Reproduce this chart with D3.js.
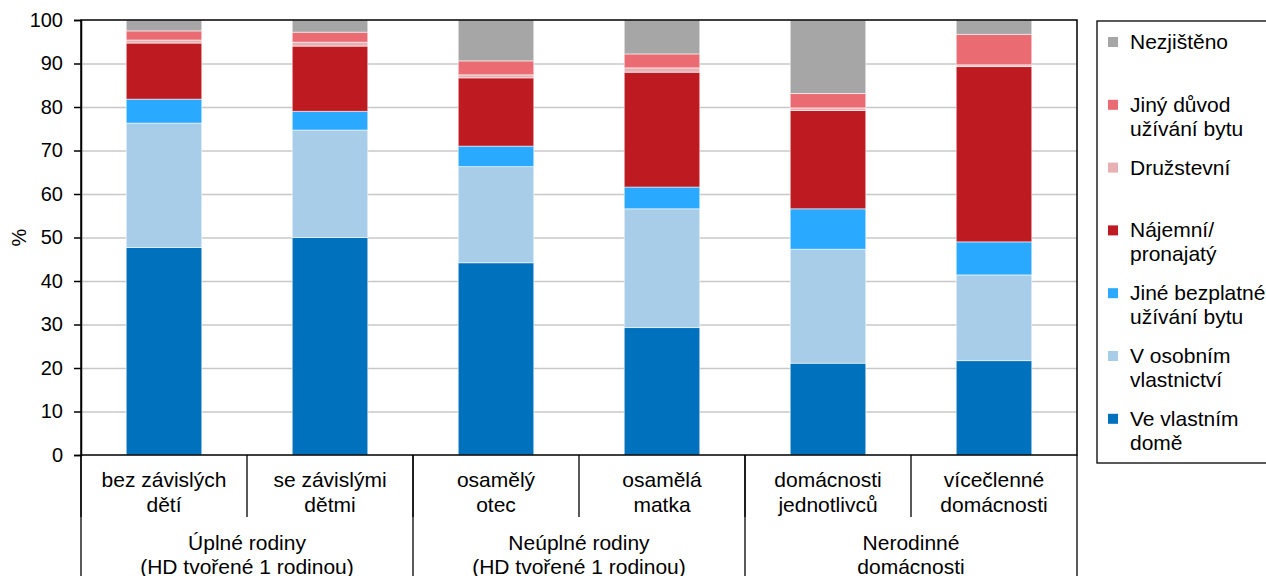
<!DOCTYPE html>
<html><head><meta charset="utf-8">
<script src="https://cdn.jsdelivr.net/npm/d3@7"></script>
<style>
body{margin:0;background:#fff;}
svg{display:block;font-family:"Liberation Sans",Arial,sans-serif;}
</style></head>
<body>
<svg id="chart" width="1266" height="576"></svg>
<script>
// ---- data ----
const categories = ["bez závislých dětí","se závislými dětmi","osamělý otec","osamělá matka","domácnosti jednotlivců","vícečlenné domácnosti"];
const categoryLines = [["bez závislých","dětí"],["se závislými","dětmi"],["osamělý","otec"],["osamělá","matka"],["domácnosti","jednotlivců"],["vícečlenné","domácnosti"]];
const groups = [["Úplné rodiny","(HD tvořené 1 rodinou)"],["Neúplné rodiny","(HD tvořené 1 rodinou)"],["Nerodinné","domácnosti"]];
const groupSize = [2,2,2];
const seriesNames = ["Ve vlastním domě","V osobním vlastnictví","Jiné bezplatné užívání bytu","Nájemní/ pronajatý","Družstevní","Jiný důvod užívání bytu","Nezjištěno"];
const legendLines = [["Ve vlastním","domě"],["V osobním","vlastnictví"],["Jiné bezplatné","užívání bytu"],["Nájemní/","pronajatý"],["Družstevní"],["Jiný důvod","užívání bytu"],["Nezjištěno"]];
const colors = ["#0071bd","#a7cde8","#29a9ff","#be1a22","#e9b0b4","#eb6b73","#a6a6a6"];
const veVlastnimDome   = [47.7, 50.0, 44.2, 29.3, 21.1, 21.7];
const vOsobnim         = [28.6, 24.7, 22.1, 27.3, 26.2, 19.7];
const jineBezplatne    = [5.5, 4.3, 4.7, 5.0, 9.3, 7.6];
const najemni          = [12.9, 15.0, 15.7, 26.4, 22.6, 40.3];
const druzstevni       = [0.7, 0.9, 0.7, 1.0, 0.6, 0.4];
const jinyDuvod        = [2.1, 2.3, 3.2, 3.2, 3.3, 7.0];
const nezjisteno       = [2.5, 2.8, 9.4, 7.8, 16.9, 3.3];
const yTicks = [0,10,20,30,40,50,60,70,80,90,100];

const seriesValues = [veVlastnimDome, vOsobnim, jineBezplatne, najemni, druzstevni, jinyDuvod, nezjisteno];
const rows = categories.map((c,i)=>{ const r={cat:c}; seriesNames.forEach((s,j)=>r[s]=seriesValues[j][i]); return r; });

// ---- layout ----
const L=81, R=1077, T=20, B=455;
const svg = d3.select("#chart");
const x = d3.scaleBand().domain(categories).range([L,R]).paddingInner(0.545).paddingOuter(0.2725);
const y = d3.scaleLinear().domain([0,100]).range([B,T]);
const FS = 20, FS2 = 21;

// gridlines
svg.append("g").selectAll("line").data(yTicks.filter(t=>t>0&&t<100)).join("line")
  .attr("x1",L).attr("x2",R).attr("y1",d=>y(d)+0.5).attr("y2",d=>y(d)+0.5)
  .attr("stroke","#c8c8c8").attr("stroke-width",1.5);

// stacked bars
const stack = d3.stack().keys(seriesNames)(rows);
svg.append("g").selectAll("g").data(stack).join("g")
  .attr("fill",(d,i)=>colors[i])
  .selectAll("rect").data(d=>d).join("rect")
  .attr("x",d=>x(d.data.cat)).attr("width",x.bandwidth())
  .attr("y",d=>y(d[1])).attr("height",d=>y(d[0])-y(d[1]))
  .attr("stroke","rgba(255,255,255,0.55)").attr("stroke-width",1);

// plot frame
svg.append("rect").attr("x",L).attr("y",T).attr("width",R-L).attr("height",B-T)
  .attr("fill","none").attr("stroke","#000").attr("stroke-width",1.5);

// y axis
const yAxis = d3.axisLeft(y).tickValues(yTicks).tickSize(7).tickPadding(11);
const gy = svg.append("g").attr("transform",`translate(${L},0)`).call(yAxis);
gy.select(".domain").attr("stroke","#000").attr("stroke-width",1.5);
gy.selectAll(".tick line").attr("stroke","#000").attr("stroke-width",1.5);
gy.selectAll(".tick text").attr("font-size",FS).attr("fill","#000").attr("font-family","Liberation Sans, Arial, sans-serif");

svg.append("text").attr("transform",`translate(26,${(T+B)/2}) rotate(-90)`)
  .attr("text-anchor","middle").attr("font-size",FS).text("%");

// category axis (multi-level)
const step = x.step();
const ax = svg.append("g");
categories.forEach((c,i)=>{
  const xl = x(c) - (step - x.bandwidth())/2;
  ax.append("line").attr("x1",xl).attr("x2",xl).attr("y1",B).attr("y2",517).attr("stroke","#000").attr("stroke-width",1.3);
});
let acc = 0;
const groupBounds = [L];
groupSize.forEach(n=>{ acc+=n; groupBounds.push(L + acc*step); });
groupBounds.forEach(gx=>{
  ax.append("line").attr("x1",gx).attr("x2",gx).attr("y1",B).attr("y2",576).attr("stroke","#000").attr("stroke-width",1.3);
});
categories.forEach((c,i)=>{
  const cx = x(c)+x.bandwidth()/2;
  const t = ax.append("text").attr("text-anchor","middle").attr("font-size",FS2);
  categoryLines[i].forEach((ln,k)=> t.append("tspan").attr("x",cx).attr("y",487+k*24.5).text(ln));
});
groups.forEach((g,i)=>{
  const cx = (groupBounds[i]+groupBounds[i+1])/2;
  const t = ax.append("text").attr("text-anchor","middle").attr("font-size",FS2);
  g.forEach((ln,k)=> t.append("tspan").attr("x",cx).attr("y",550+k*24).text(ln));
});

// legend
const lg = svg.append("g");
lg.append("rect").attr("x",1097).attr("y",21).attr("width",180).attr("height",442)
  .attr("fill","#fff").attr("stroke","#000").attr("stroke-width",1.3);
const order = d3.range(seriesNames.length).reverse();
order.forEach((si,k)=>{
  const cy = 42 + k*62.8;
  lg.append("rect").attr("x",1108).attr("y",cy-5).attr("width",10).attr("height",10).attr("fill",colors[si]);
  const t = lg.append("text").attr("font-size",FS2);
  legendLines[si].forEach((ln,j)=> t.append("tspan").attr("x",1130).attr("y",cy+7+j*24).text(ln));
});
</script>
</body></html>
